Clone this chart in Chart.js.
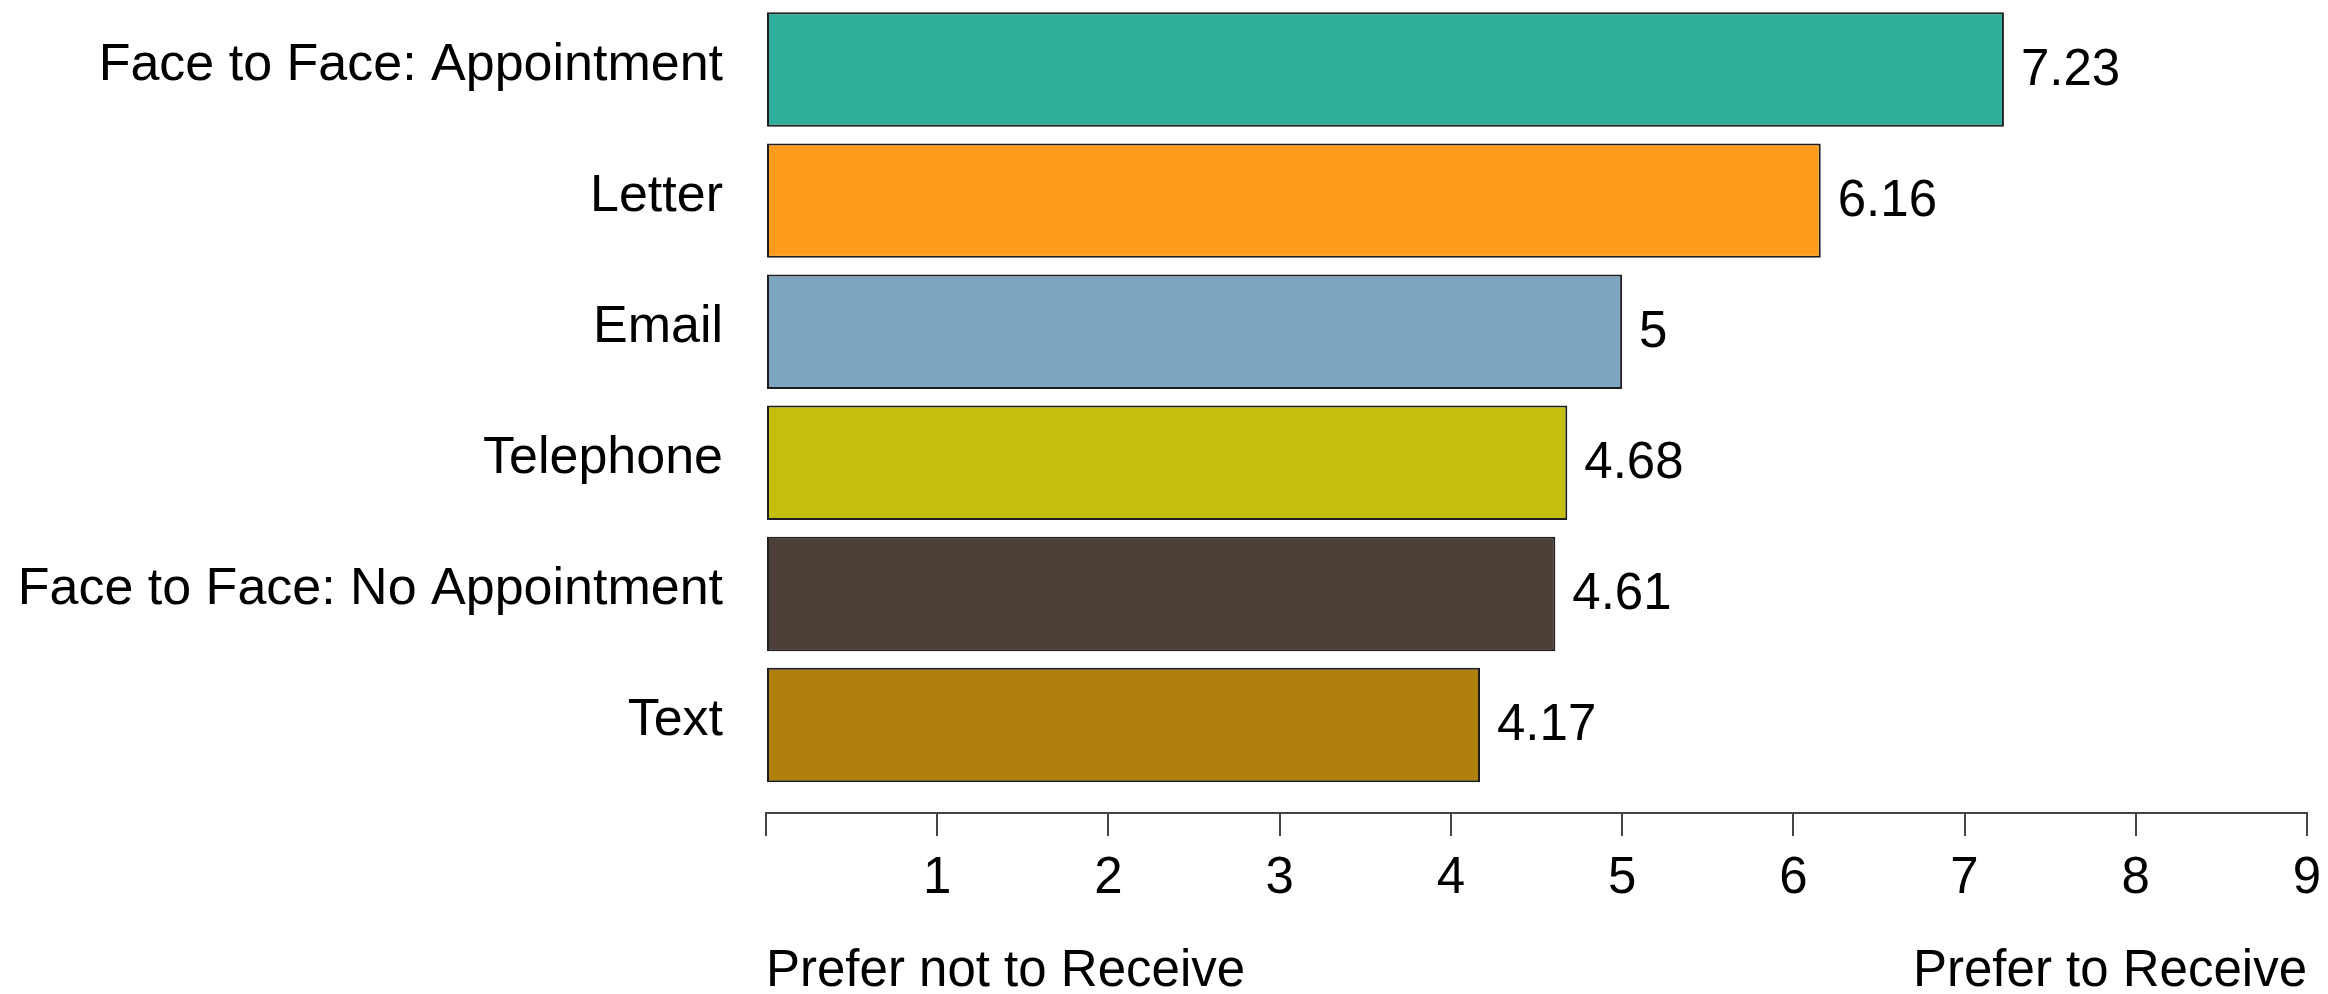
<!DOCTYPE html>
<html>
<head>
<meta charset="utf-8">
<script src="https://cdn.jsdelivr.net/npm/chart.js"></script>
<style>
  body { margin: 0; background: #fff; }
  #wrap { width: 2328px; height: 994px; }
</style>
</head>
<body>
<div id="wrap"><canvas id="myChart"></canvas></div>
<script>
const categories = ['Face to Face: Appointment', 'Letter', 'Email', 'Telephone', 'Face to Face: No Appointment', 'Text'];
const scores = [7.23, 6.16, 5, 4.68, 4.61, 4.17];
const barColors = ['#2EAE9B', '#FF9C1E', '#7EA5BF', '#C4BF0D', '#4C3F37', '#B0800C'];
const xTicks = [1, 2, 3, 4, 5, 6, 7, 8, 9];
const endLabels = ['Prefer not to Receive', 'Prefer to Receive'];

const FONT = "'Liberation Sans', Arial, sans-serif";

// value text to the right of each bar
const valueLabels = {
  id: 'valueLabels',
  afterDatasetsDraw(chart) {
    const ctx = chart.ctx;
    const meta = chart.getDatasetMeta(0);
    ctx.save();
    ctx.font = '51px ' + FONT;
    ctx.fillStyle = '#000';
    ctx.textAlign = 'left';
    ctx.textBaseline = 'middle';
    meta.data.forEach((bar, i) => {
      ctx.fillText(String(scores[i]), bar.x + 17, bar.y + 1);
    });
    ctx.restore();
  }
};

const noPad = (scale) => {
  scale.paddingLeft = 0; scale.paddingRight = 0;
  scale.paddingTop = 0; scale.paddingBottom = 0;
};

const ctx = document.getElementById('myChart');
new Chart(ctx, {
  type: 'bar',
  data: {
    datasets: [{
      data: scores.map((v, i) => ({ x: v, y: i })),
      backgroundColor: barColors,
      borderColor: '#1e1e1e',
      borderWidth: 2,
      borderSkipped: false,
      barPercentage: 0.873,
      categoryPercentage: 1
    }]
  },
  options: {
    indexAxis: 'y',
    responsive: true,
    maintainAspectRatio: false,
    animation: false,
    layout: { padding: { top: 4, right: 21, left: 0, bottom: 0 } },
    plugins: {
      legend: { display: false },
      tooltip: { enabled: false }
    },
    scales: {
      y: {
        type: 'linear',
        reverse: true,
        offset: false,
        min: -0.5,
        max: 5.671,
        grid: { display: false, drawTicks: false, offset: false },
        border: { display: false },
        afterBuildTicks: (s) => { s.ticks = categories.map((c, i) => ({ value: i })); },
        afterFit: (s) => { s.width = 766; noPad(s); },
        ticks: {
          padding: 43,
          labelOffset: -4,
          color: '#000',
          font: { family: FONT, size: 52, lineHeight: 1 },
          callback: (v) => categories[v]
        }
      },
      x: {
        type: 'linear',
        position: 'bottom',
        weight: 0,
        min: 0,
        max: 9,
        grid: { display: true, drawOnChartArea: false, drawTicks: true, tickLength: 23, color: '#444', lineWidth: 2 },
        border: { display: true, color: '#444', width: 2 },
        afterBuildTicks: (s) => { s.ticks = [0].concat(xTicks).map(v => ({ value: v })); },
        afterFit: (s) => { s.height = 90; noPad(s); },
        ticks: {
          padding: 17.5,
          maxRotation: 0,
          autoSkip: false,
          color: '#000',
          font: { family: FONT, size: 51, lineHeight: 1 },
          callback: (v) => (v === 0 ? '' : String(v))
        }
      },
      x2: {
        type: 'linear',
        axis: 'x',
        position: 'bottom',
        weight: 1,
        min: 0,
        max: 9,
        grid: { display: false, drawTicks: false },
        border: { display: false },
        afterBuildTicks: (s) => { s.ticks = [{ value: 0 }, { value: 9 }]; },
        afterFit: (s) => { s.height = 91; noPad(s); },
        ticks: {
          padding: 43.5,
          align: 'inner',
          maxRotation: 0,
          autoSkip: false,
          color: '#000',
          font: { family: FONT, size: 51, lineHeight: 1 },
          callback: (v, i) => endLabels[i]
        }
      }
    }
  },
  plugins: [valueLabels]
});
</script>
</body>
</html>
